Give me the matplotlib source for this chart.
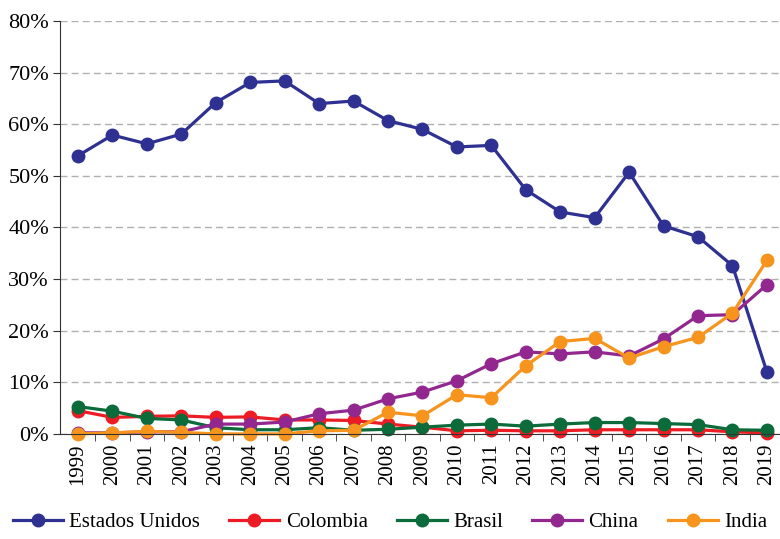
import numpy as np
import matplotlib.pyplot as plt
from matplotlib.ticker import FuncFormatter

years = list(range(1999, 2020))
estados_unidos = [53.9, 57.9, 56.2, 58.1, 64.2, 68.1, 68.4, 64.0, 64.5, 60.7, 59.0,
                  55.6, 55.9, 47.3, 43.0, 41.9, 50.7, 40.3, 38.2, 32.6, 12.0]
colombia = [4.5, 3.2, 3.4, 3.5, 3.2, 3.3, 2.7, 2.7, 2.6, 1.9, 1.3,
            0.6, 0.7, 0.6, 0.6, 0.8, 0.8, 0.8, 0.8, 0.4, 0.2]
brasil = [5.3, 4.4, 3.0, 2.7, 1.2, 0.8, 0.8, 1.2, 0.7, 0.9, 1.3,
          1.7, 1.9, 1.5, 1.9, 2.2, 2.2, 2.0, 1.8, 0.8, 0.7]
china = [0.2, 0.2, 0.4, 0.4, 1.9, 1.9, 2.3, 3.9, 4.6, 6.8, 8.1,
         10.3, 13.6, 15.9, 15.5, 15.9, 15.1, 18.4, 22.9, 23.1, 28.9]
india = [0.0, 0.2, 0.5, 0.3, 0.0, 0.0, 0.0, 0.6, 0.7, 4.2, 3.5,
         7.6, 7.0, 13.2, 17.9, 18.5, 14.7, 16.9, 18.7, 23.4, 33.6]

series = [("Estados Unidos", estados_unidos, "#2E3192"),
          ("Colombia", colombia, "#ED1C24"),
          ("Brasil", brasil, "#0B6B3A"),
          ("China", china, "#92278F"),
          ("India", india, "#F7941D")]

plt.rcParams['font.family'] = ['Liberation Serif', 'DejaVu Serif']

fig = plt.figure(figsize=(7.8, 5.39), dpi=100)
ax = fig.add_axes([0.077, 0.195, 0.923, 0.766])

x = np.arange(len(years))
for name, vals, col in series:
    ax.plot(x, vals, color=col, lw=2.3, marker='o', ms=9, label=name, clip_on=False)

ax.set_ylim(0, 80)
ax.set_xlim(-0.52, 20.38)
ax.set_yticks(range(0, 81, 10))
ax.yaxis.set_major_formatter(FuncFormatter(lambda v, p: f"{int(v)}%"))
ax.set_xticks(x)
ax.set_xticklabels([str(y) for y in years], rotation=90)
ax.set_xticks(np.arange(0.5, 20, 1), minor=True)
ax.tick_params(axis='x', which='major', length=0, pad=7, labelsize=15)
ax.tick_params(axis='x', which='minor', length=5, color='#333333')
ax.tick_params(axis='y', length=5, color='#333333', labelsize=16, pad=3)

ax.grid(axis='y', linestyle=(0, (5, 3)), color='#b0b0b0', lw=1)
ax.set_axisbelow(True)
for s in ['top', 'right']:
    ax.spines[s].set_visible(False)
ax.spines['left'].set_color('#333333')
ax.spines['bottom'].set_color('#333333')

fig.legend(loc='lower center', bbox_to_anchor=(0.5, -0.022), ncol=5, frameon=False,
           fontsize=15, handlelength=2.4, columnspacing=1.4, handletextpad=0.3)

fig.savefig("out.png", dpi=100)
